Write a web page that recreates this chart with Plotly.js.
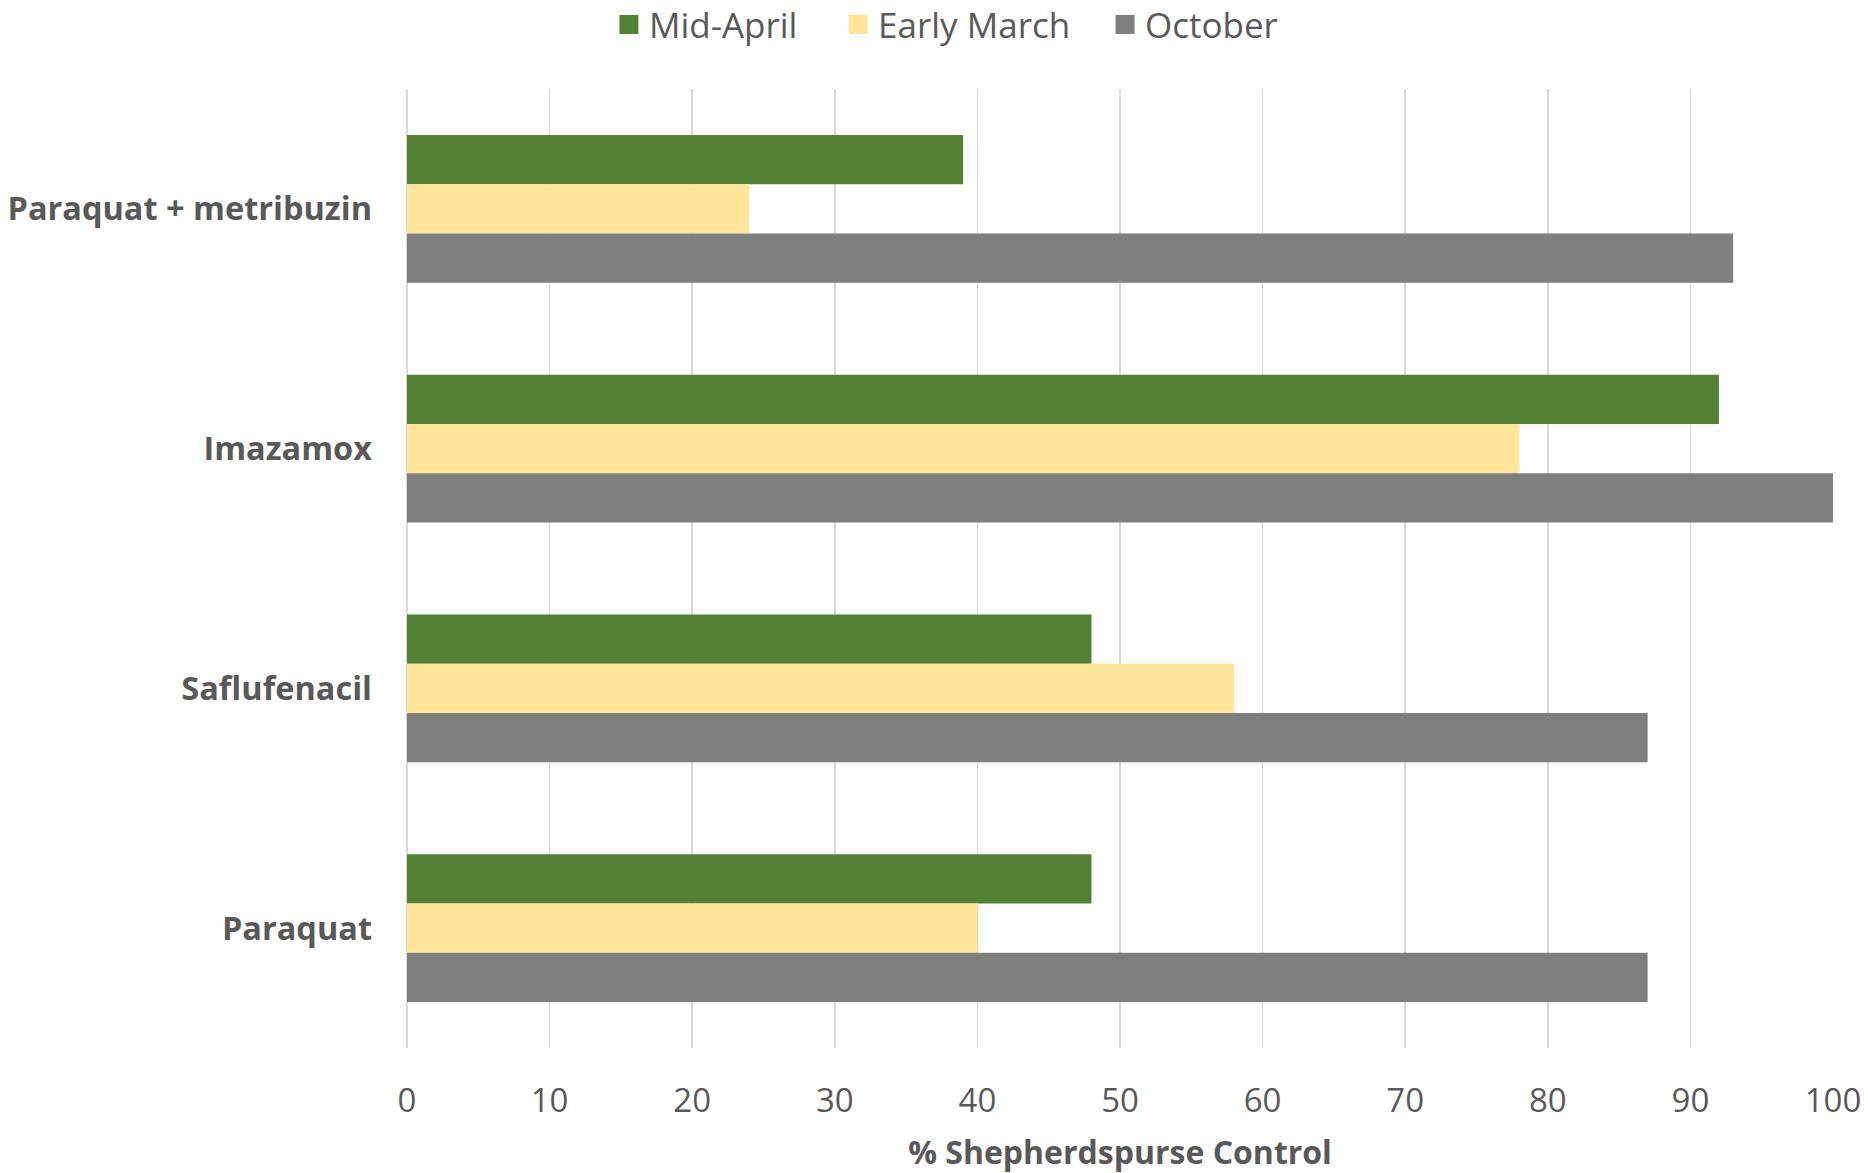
<!DOCTYPE html>
<html>
<head>
<meta charset="utf-8">
<script src="https://cdn.plot.ly/plotly-3.0.1.min.js"></script>
<style>html,body{margin:0;padding:0;background:#fff;}#chart{width:1868px;height:1173px;}</style>
</head>
<body>
<div id="chart"></div>
<script>
const categories = ["Paraquat + metribuzin", "Imazamox", "Saflufenacil", "Paraquat"];
const seriesNames = ["Mid-April", "Early March", "October"];
const midApril = [39, 92, 48, 48];
const earlyMarch = [24, 78, 58, 40];
const october = [93, 100, 87, 87];
const xTicks = [0, 10, 20, 30, 40, 50, 60, 70, 80, 90, 100];
const colors = ["#548235", "#FFE699", "#7F7F7F"];

const values = [midApril, earlyMarch, october];
const traces = values.map((v, i) => ({
  type: "bar",
  orientation: "h",
  name: seriesNames[i],
  y: categories,
  x: v,
  marker: {color: colors[i]},
  showlegend: false,
  hoverinfo: "x+name"
}));
// legend-only proxies (no data) so the legend keys are larger squares
const legendIds = ["legend", "legend2", "legend3"];
const legendProxies = seriesNames.map((n, i) => ({
  type: "scatter", mode: "markers", name: n,
  x: [null], y: [null],
  legend: legendIds[i],
  marker: {symbol: "square", size: 16, color: colors[i], line: {color: colors[i], width: 3}},
  showlegend: true, hoverinfo: "skip"
}));

const legendX = [0.1416, 0.3023, 0.4895];
function legendCfg(x) {
  return {
    orientation: "h", x: x, xanchor: "left", y: 1.067, yanchor: "middle",
    font: {size: 35, color: "#595959"}, itemwidth: 30, itemsizing: "trace",
    bgcolor: "rgba(0,0,0,0)"
  };
}

const layout = {
  width: 1868, height: 1173,
  paper_bgcolor: "#fff", plot_bgcolor: "#fff",
  margin: {l: 407, r: 35, t: 89, b: 125, pad: 0, autoexpand: false},
  barmode: "group",
  bargap: 0.383,
  bargroupgap: 0,
  font: {family: "Open Sans, sans-serif", color: "#595959"},
  showlegend: true,
  legend: legendCfg(legendX[0]),
  legend2: legendCfg(legendX[1]),
  legend3: legendCfg(legendX[2]),
  xaxis: {
    range: [0, 100], tickvals: xTicks, ticktext: xTicks.map(String),
    showgrid: true, gridcolor: "#D9D9D9", gridwidth: 1.5,
    zeroline: true, zerolinecolor: "#D9D9D9", zerolinewidth: 1.5,
    showline: false, ticks: "",
    ticklabelstandoff: 30,
    tickfont: {size: 33, color: "#595959"},
    automargin: false,
    title: {text: "% Shepherdspurse Control", font: {size: 32, color: "#595959", weight: "bold"}, standoff: 27}
  },
  yaxis: {
    type: "category", categoryorder: "array", categoryarray: categories,
    range: [3.5, -0.5], showgrid: false, zeroline: false, showline: false, ticks: "",
    ticklabelstandoff: 34,
    tickfont: {size: 32.5, color: "#595959", weight: "bold"},
    automargin: false
  }
};

Plotly.newPlot("chart", traces.concat(legendProxies), layout, {displayModeBar: false, staticPlot: true});
</script>
</body>
</html>
